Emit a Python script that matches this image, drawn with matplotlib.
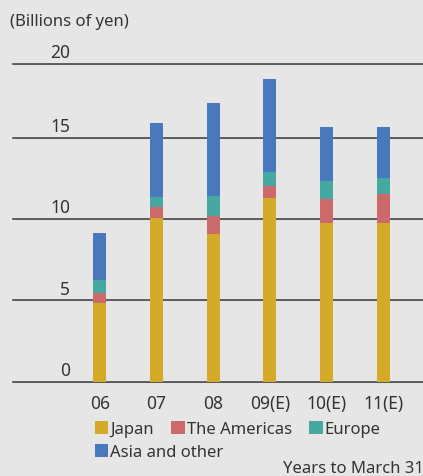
import numpy as np
import matplotlib
matplotlib.use("Agg")
import matplotlib.pyplot as plt
from matplotlib.patches import Patch

plt.rcParams['font.family'] = ['Noto Sans', 'DejaVu Sans']

years = ['06', '07', '08', '09(E)', '10(E)', '11(E)']
japan = [4.86, 10.07, 9.09, 11.30, 9.78, 9.78]
americas = [0.62, 0.68, 1.11, 0.74, 1.48, 1.77]
europe = [0.78, 0.62, 1.23, 0.86, 1.09, 0.99]
asia = [2.89, 4.55, 5.72, 5.73, 3.32, 3.13]

series = ['Japan', 'The Americas', 'Europe', 'Asia and other']
colors = ['#d3ab28', '#cc6a6b', '#45a9a2', '#4878be']

grid_levels = [0, 5, 10, 15]
top_level = 19.55
tick_text = ['0', '5', '10', '15', '20']

bg = '#e6e6e6'
txt = '#333333'
fs = 12

fig = plt.figure(figsize=(4.23, 4.77), dpi=100, facecolor=bg)
ax = fig.add_axes([13 / 423, 1 - 382.7 / 477, 410 / 423, (382.7 - 64.7) / 477])
ax.set_facecolor(bg)

x = np.arange(len(years))
bottom = np.zeros(len(years))
for vals, col in zip([japan, americas, europe, asia], colors):
    ax.bar(x, vals, width=0.23, bottom=bottom, color=col, zorder=3)
    bottom += np.array(vals)

ax.set_xlim(-1.53, 5.70)
ax.set_ylim(0, top_level)

# horizontal rules with their values sitting on top, left side
for lvl, lab in zip(grid_levels + [top_level], tick_text):
    ax.axhline(lvl, color='#4a4a4a', lw=1.2, zorder=1, clip_on=False)
    ax.axhline(lvl, color='#bdbdbd', lw=0.8, zorder=0, clip_on=False)
    ax.annotate(lab, xy=(0.139, lvl), xycoords=ax.get_yaxis_transform(),
                xytext=(0, 2), textcoords='offset points',
                ha='right', va='bottom', fontsize=fs + 0.5, color=txt)

for s in ax.spines.values():
    s.set_visible(False)
ax.set_yticks([])
ax.set_xticks(x)
ax.set_xticklabels(years, fontsize=fs + 0.5, color=txt)
ax.tick_params(axis='x', length=0, pad=9)

fig.text(10 / 423, 1 - 22 / 477, '(Billions of yen)', fontsize=fs,
         color=txt, ha='left', va='center')

handles = [Patch(facecolor=c, edgecolor='none') for c in colors]
leg_kw = dict(frameon=False, fontsize=fs, handlelength=0.8, handleheight=0.8,
              handletextpad=0.12, columnspacing=1.05, borderpad=0, borderaxespad=0,
              labelcolor=txt, loc='center left')
fig.legend(handles[:3], series[:3], ncol=3,
           bbox_to_anchor=(95 / 423, 1 - 430 / 477), **leg_kw)
fig.legend(handles[3:], series[3:], ncol=1,
           bbox_to_anchor=(95 / 423, 1 - 453 / 477), **leg_kw)

fig.text(424 / 423, 1 - 469 / 477, 'Years to March 31', fontsize=fs,
         color=txt, ha='right', va='center')

fig.savefig('out.png', dpi=100, facecolor=bg)
